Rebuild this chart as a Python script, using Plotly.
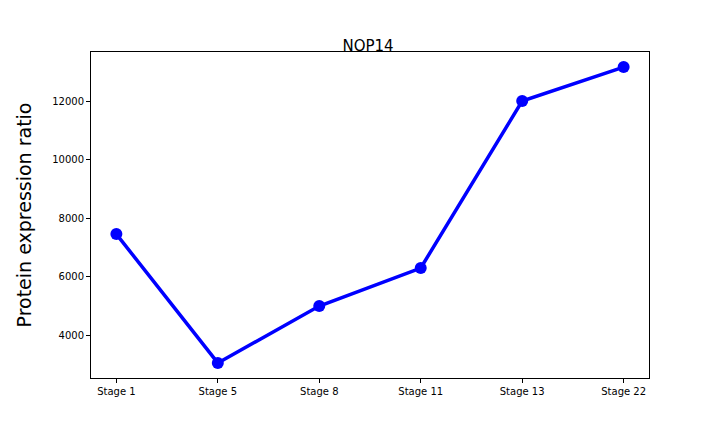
import plotly.graph_objects as go

stages = ["Stage 1", "Stage 5", "Stage 8", "Stage 11", "Stage 13", "Stage 22"]
values = [7450, 3045, 4990, 6290, 12000, 13160]

fig = go.Figure(go.Scatter(
    x=list(range(len(stages))), y=values, mode="lines+markers",
    line=dict(color="#0000ff", width=3.5),
    marker=dict(color="#0000ff", size=12),
))
fig.update_layout(
    width=720, height=432, paper_bgcolor="white", plot_bgcolor="white",
    margin=dict(l=83, r=79, t=44, b=62), showlegend=False,
    font=dict(family="DejaVu Sans", color="black"),
    title=dict(text="NOP14", x=0.5, xanchor="center", y=0.9, yanchor="bottom",
               font=dict(size=15)),
)
axis_common = dict(showline=True, linecolor="black", linewidth=1, mirror=True,
                   showgrid=False, zeroline=False, ticks="outside", ticklen=4,
                   tickcolor="black", tickfont=dict(size=10))
fig.update_xaxes(tickvals=list(range(len(stages))), ticktext=stages,
                 range=[-0.25, 5.25], **axis_common)
fig.update_yaxes(range=[2530, 13675], tickvals=[4000, 6000, 8000, 10000, 12000],
                 tickformat="d",
                 title=dict(text="Protein expression ratio", font=dict(size=19)),
                 **axis_common)
fig.write_html("out.html")
